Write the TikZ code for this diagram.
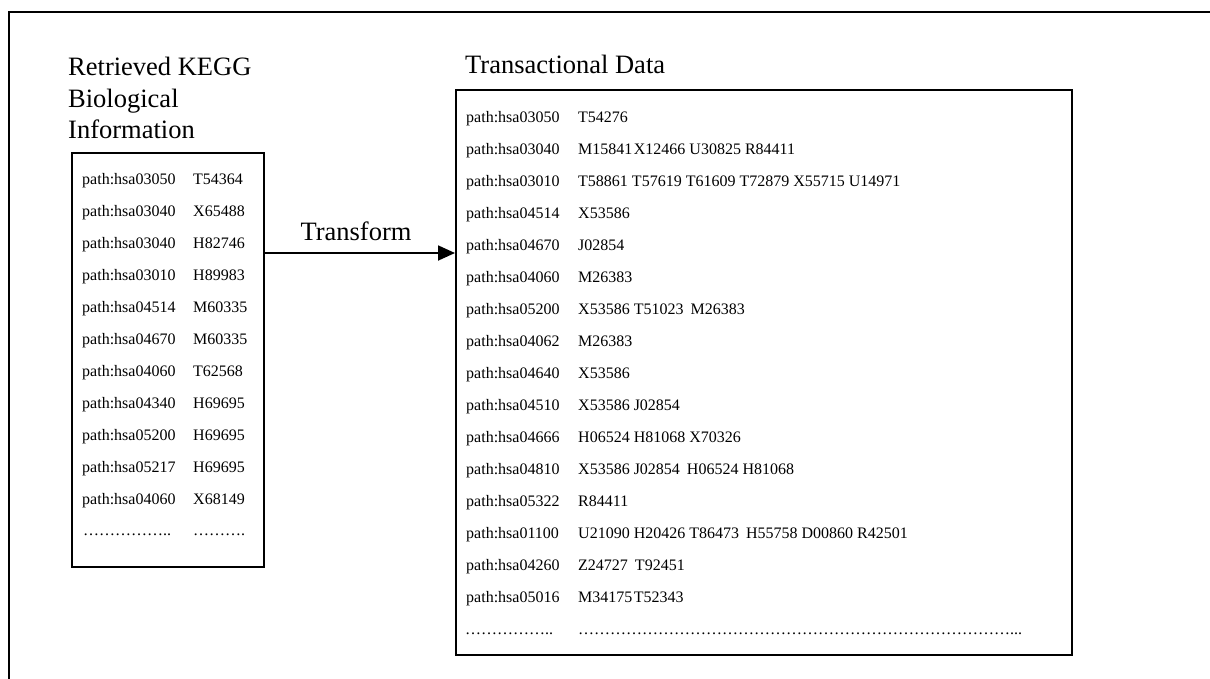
\documentclass[tikz,border=0pt]{standalone}
\usepackage{fontspec}
\setmainfont{Liberation Serif}
\usetikzlibrary{arrows.meta}
\tikzset{
  x=1pt,y=-1pt,
  frame/.style={line width=1.8pt, draw=black},
  box/.style={draw=black, line width=1.8pt, inner sep=0pt, anchor=north west},
  title/.style={anchor=base west, inner sep=0pt, font=\fontsize{26.5}{30}\selectfont},
  row/.style={anchor=base west, inner sep=0pt, font=\fontsize{16}{19}\selectfont},
  arr/.style={line width=1.8pt, -{Triangle[length=17pt,width=15pt]}, shorten >=0pt}
}
\newcommand{\el}{\char"2026}
\begin{document}
\begin{tikzpicture}
\useasboundingbox (0,0) rectangle (1210,678);
% outer frame
\draw[frame] (9,680) -- (9,12) -- (1212,12);
% titles
\node[title] (t1) at (68,75) {Retrieved KEGG};
\node[title] (t2) at (68,107) {Biological};
\node[title] (t3) at (68,138) {Information};
\node[title] (t4) at (465,73) {Transactional Data};
% boxes
\node[box, minimum width=192pt, minimum height=414pt] (lbox) at (71,152) {};
\node[box, minimum width=616pt, minimum height=565pt] (rbox) at (455,89) {};
% left rows
\foreach \i/\p/\g in {0/03050/T54364,1/03040/X65488,2/03040/H82746,3/03010/H89983,4/04514/M60335,5/04670/M60335,6/04060/T62568,7/04340/H69695,8/05200/H69695,9/05217/H69695,10/04060/X68149}{
  \node[row] (lp\i) at (82,184+32*\i) {path:hsa\p};
  \node[row] (lg\i) at (193,184+32*\i) {\g};
}
\node[row] (ld1) at (83,535) {\el\el\el\el\el..};
\node[row] (ld2) at (193,535) {\el\el\el.};
% right rows
\node[row] (rp0) at (466,122) {path:hsa03050};  \node[row] (rg0) at (578,122) {T54276};
\node[row] (rp1) at (466,154) {path:hsa03040};  \node[row] (rg1) at (578,154) {M15841\hspace{1.5pt}X12466 U30825 R84411};
\node[row] (rp2) at (466,186) {path:hsa03010};  \node[row] (rg2) at (578,186) {T58861 T57619 T61609 T72879 X55715 U14971};
\node[row] (rp3) at (466,218) {path:hsa04514};  \node[row] (rg3) at (578,218) {X53586};
\node[row] (rp4) at (466,250) {path:hsa04670};  \node[row] (rg4) at (578,250) {J02854};
\node[row] (rp5) at (466,282) {path:hsa04060};  \node[row] (rg5) at (578,282) {M26383};
\node[row] (rp6) at (466,314) {path:hsa05200};  \node[row] (rg6) at (578,314) {X53586 T51023\hspace{7pt}M26383};
\node[row] (rp7) at (466,346) {path:hsa04062};  \node[row] (rg7) at (578,346) {M26383};
\node[row] (rp8) at (466,378) {path:hsa04640};  \node[row] (rg8) at (578,378) {X53586};
\node[row] (rp9) at (466,410) {path:hsa04510};  \node[row] (rg9) at (578,410) {X53586 J02854};
\node[row] (rp10) at (466,442) {path:hsa04666}; \node[row] (rg10) at (578,442) {H06524 H81068 X70326};
\node[row] (rp11) at (466,474) {path:hsa04810}; \node[row] (rg11) at (578,474) {X53586 J02854\hspace{7pt}H06524 H81068};
\node[row] (rp12) at (466,506) {path:hsa05322}; \node[row] (rg12) at (578,506) {R84411};
\node[row] (rp13) at (466,538) {path:hsa01100}; \node[row] (rg13) at (578,538) {U21090 H20426 T86473\hspace{7pt}H55758 D00860 R42501};
\node[row] (rp14) at (466,570) {path:hsa04260}; \node[row] (rg14) at (578,570) {Z24727\hspace{7pt}T92451};
\node[row] (rp15) at (466,602) {path:hsa05016}; \node[row] (rg15) at (578,602) {M34175\hspace{1.5pt}T52343};
\node[row] (rd1) at (465,634) {\el\el\el\el\el..};
\node[row] (rd2) at (578,634) {\el\el\el\el\el\el\el\el\el\el\el\el\el\el\el\el\el\el\el\el\el\el\el\el\el\el\el...};
% arrow
\coordinate (ay) at (0,253);
\draw[arr] (lbox.east |- ay) -- (rbox.west |- ay);
\node[title, anchor=base] (tr) at (356,240) {Transform};
\end{tikzpicture}
\end{document}
